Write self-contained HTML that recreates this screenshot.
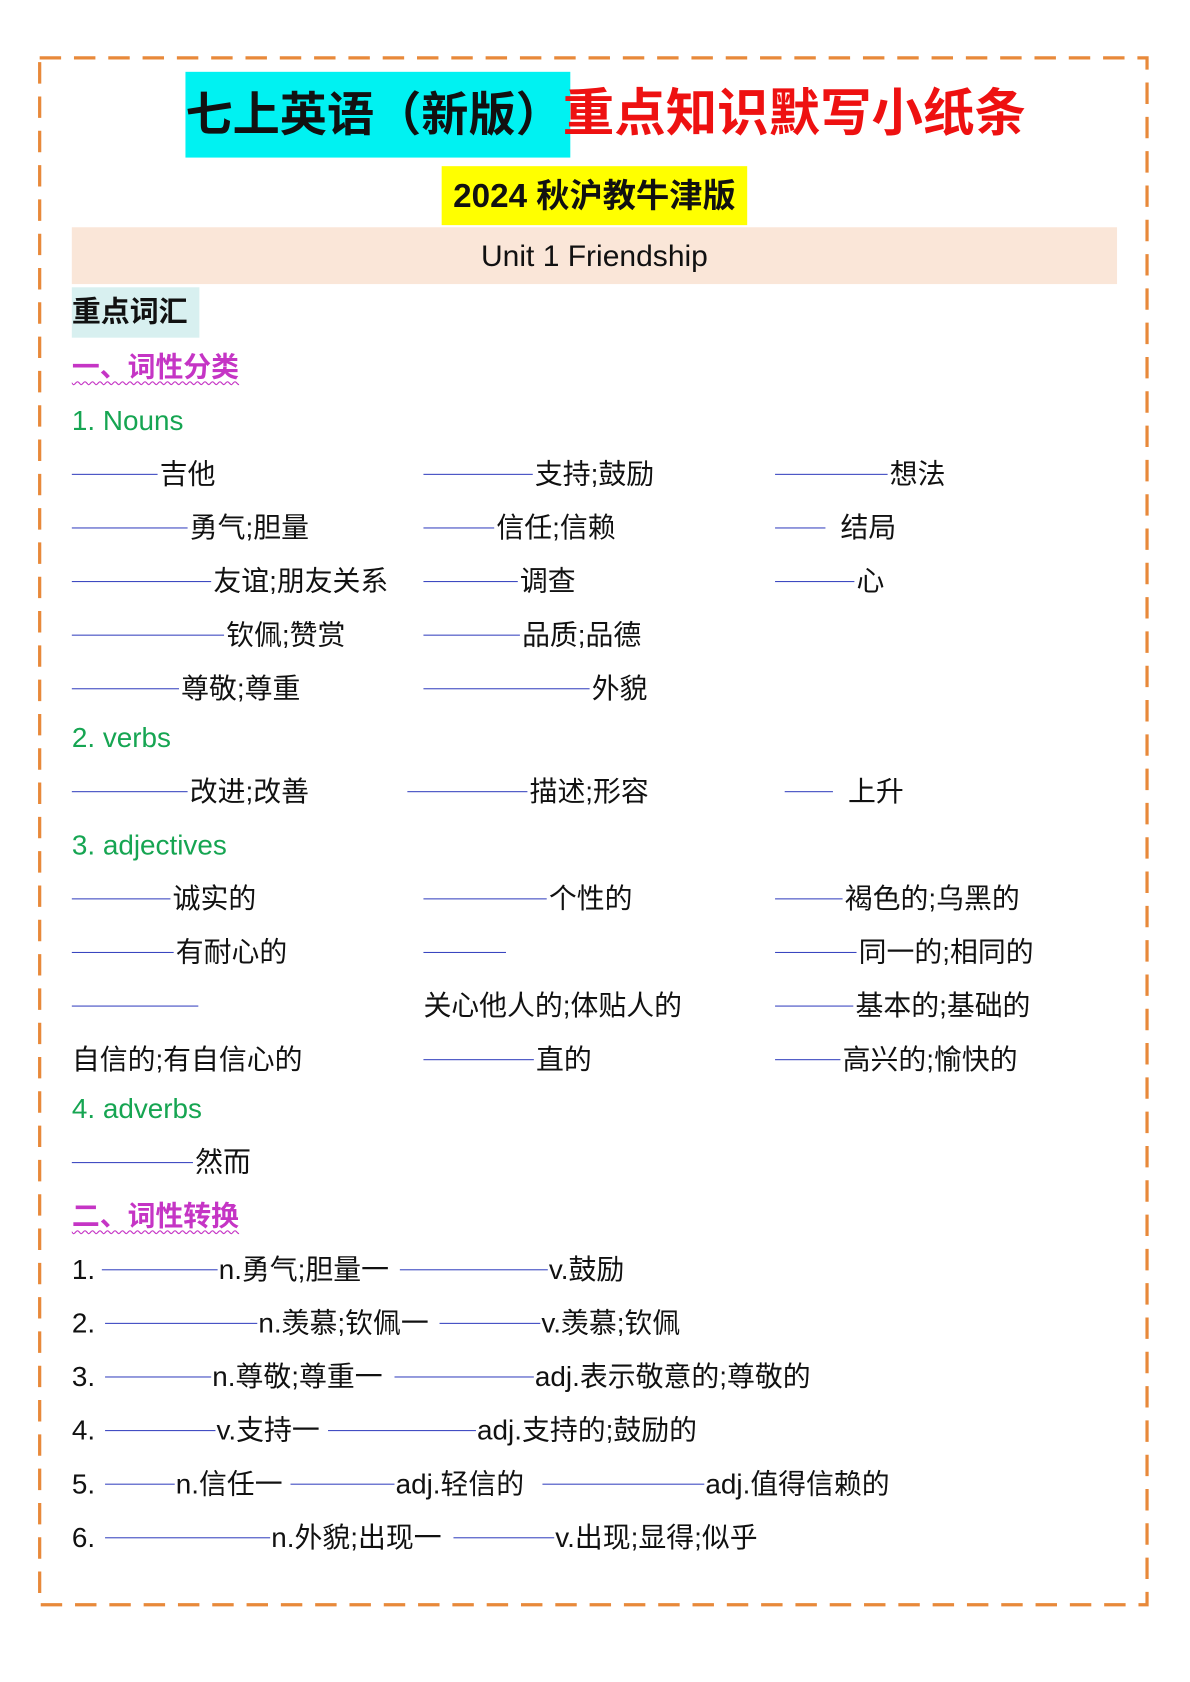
<!DOCTYPE html>
<html><head><meta charset="utf-8">
<style>
html,body{margin:0;padding:0;background:#fff;}
body{width:1190px;height:1682px;overflow:hidden;position:relative;}
#c{position:absolute;left:0;top:0;width:1110px;height:1569px;transform:scale(1.072);transform-origin:0 0;font-family:"Liberation Sans","Noto Sans CJK SC",sans-serif;color:#111;}
.t{position:absolute;font-size:26px;line-height:32px;white-space:nowrap;height:32px;}
.b{position:absolute;height:0;border-bottom:1.5px solid #3a46c0;}
.g{position:absolute;font-size:26px;line-height:32px;color:#16a552;white-space:nowrap;}
.m{position:absolute;font-size:26px;line-height:32px;color:#c535c5;font-weight:bold;white-space:nowrap;text-decoration:underline wavy #c535c5;text-decoration-thickness:1px;text-underline-offset:4px;}
</style></head><body>
<div id="c">
<svg style="position:absolute;left:0;top:0" width="1110" height="1569"><rect x="37" y="54" width="1033" height="1443" fill="none" stroke="#e8893a" stroke-width="3" stroke-dasharray="20 12"/></svg>

<div style="position:absolute;left:173px;top:67px;width:359px;height:80px;background:#00f2f2;"></div>
<div style="position:absolute;left:173px;top:67px;height:80px;line-height:80px;font-size:44px;font-weight:bold;white-space:nowrap;">七上英语（新版）<span style="color:#ee1111;font-size:48px;">重点知识默写小纸条</span></div>

<div style="position:absolute;left:412px;top:155px;width:285px;height:55px;background:#ffff00;"></div>
<div style="position:absolute;left:412px;top:155px;width:285px;height:55px;line-height:55px;font-size:31px;font-weight:bold;text-align:center;white-space:nowrap;">2024 秋沪教牛津版</div>

<div style="position:absolute;left:67px;top:212px;width:975px;height:53px;background:#fae6d8;line-height:53px;text-align:center;font-size:28px;">Unit 1 Friendship</div>

<div style="position:absolute;left:67px;top:268px;width:119px;height:47px;background:#d8f0f0;line-height:47px;font-size:27px;font-weight:bold;">重点词汇</div>

<div class="m" style="left:67px;top:326px;">一、词性分类</div>
<div class="g" style="left:67px;top:376px;">1. Nouns</div>

<div class="b" style="left:67px;top:442px;width:80px"></div><div class="t" style="left:149px;top:426px">吉他</div>
<div class="b" style="left:395px;top:442px;width:102px"></div><div class="t" style="left:499px;top:426px">支持;鼓励</div>
<div class="b" style="left:723px;top:442px;width:105px"></div><div class="t" style="left:830px;top:426px">想法</div>

<div class="b" style="left:67px;top:492px;width:108px"></div><div class="t" style="left:177px;top:476px">勇气;胆量</div>
<div class="b" style="left:395px;top:492px;width:66px"></div><div class="t" style="left:463px;top:476px">信任;信赖</div>
<div class="b" style="left:723px;top:492px;width:47px"></div><div class="t" style="left:784px;top:476px">结局</div>

<div class="b" style="left:67px;top:542px;width:130px"></div><div class="t" style="left:199px;top:526px">友谊;朋友关系</div>
<div class="b" style="left:395px;top:542px;width:88px"></div><div class="t" style="left:485px;top:526px">调查</div>
<div class="b" style="left:723px;top:542px;width:74px"></div><div class="t" style="left:799px;top:526px">心</div>

<div class="b" style="left:67px;top:592px;width:142px"></div><div class="t" style="left:211px;top:576px">钦佩;赞赏</div>
<div class="b" style="left:395px;top:592px;width:90px"></div><div class="t" style="left:487px;top:576px">品质;品德</div>

<div class="b" style="left:67px;top:642px;width:100px"></div><div class="t" style="left:169px;top:626px">尊敬;尊重</div>
<div class="b" style="left:395px;top:642px;width:155px"></div><div class="t" style="left:552px;top:626px">外貌</div>

<div class="g" style="left:67px;top:672px;">2. verbs</div>
<div class="b" style="left:67px;top:738px;width:108px"></div><div class="t" style="left:177px;top:722px">改进;改善</div>
<div class="b" style="left:380px;top:738px;width:112px"></div><div class="t" style="left:494px;top:722px">描述;形容</div>
<div class="b" style="left:732px;top:738px;width:45px"></div><div class="t" style="left:791px;top:722px">上升</div>

<div class="g" style="left:67px;top:772px;">3. adjectives</div>
<div class="b" style="left:67px;top:838px;width:92px"></div><div class="t" style="left:161px;top:822px">诚实的</div>
<div class="b" style="left:395px;top:838px;width:115px"></div><div class="t" style="left:512px;top:822px">个性的</div>
<div class="b" style="left:723px;top:838px;width:63px"></div><div class="t" style="left:788px;top:822px">褐色的;乌黑的</div>

<div class="b" style="left:67px;top:888px;width:95px"></div><div class="t" style="left:164px;top:872px">有耐心的</div>
<div class="b" style="left:395px;top:888px;width:77px"></div>
<div class="b" style="left:723px;top:888px;width:76px"></div><div class="t" style="left:801px;top:872px">同一的;相同的</div>

<div class="b" style="left:67px;top:938px;width:118px"></div>
<div class="t" style="left:395px;top:922px">关心他人的;体贴人的</div>
<div class="b" style="left:723px;top:938px;width:73px"></div><div class="t" style="left:798px;top:922px">基本的;基础的</div>

<div class="t" style="left:67px;top:972px">自信的;有自信心的</div>
<div class="b" style="left:395px;top:988px;width:103px"></div><div class="t" style="left:500px;top:972px">直的</div>
<div class="b" style="left:723px;top:988px;width:61px"></div><div class="t" style="left:786px;top:972px">高兴的;愉快的</div>

<div class="g" style="left:67px;top:1018px;">4. adverbs</div>
<div class="b" style="left:67px;top:1084px;width:113px"></div><div class="t" style="left:182px;top:1068px">然而</div>

<div class="m" style="left:67px;top:1118px;">二、词性转换</div>

<div class="t" style="left:67px;top:1168px">1.</div><div class="b" style="left:95px;top:1184px;width:108px"></div><div class="t" style="left:204px;top:1168px">n.勇气;胆量一</div><div class="b" style="left:373px;top:1184px;width:138px"></div><div class="t" style="left:512px;top:1168px">v.鼓励</div>

<div class="t" style="left:67px;top:1218px">2.</div><div class="b" style="left:98px;top:1234px;width:142px"></div><div class="t" style="left:241px;top:1218px">n.羡慕;钦佩一</div><div class="b" style="left:410px;top:1234px;width:94px"></div><div class="t" style="left:505px;top:1218px">v.羡慕;钦佩</div>

<div class="t" style="left:67px;top:1268px">3.</div><div class="b" style="left:98px;top:1284px;width:99px"></div><div class="t" style="left:198px;top:1268px">n.尊敬;尊重一</div><div class="b" style="left:368px;top:1284px;width:130px"></div><div class="t" style="left:499px;top:1268px">adj.表示敬意的;尊敬的</div>

<div class="t" style="left:67px;top:1318px">4.</div><div class="b" style="left:98px;top:1334px;width:103px"></div><div class="t" style="left:202px;top:1318px">v.支持一</div><div class="b" style="left:306px;top:1334px;width:138px"></div><div class="t" style="left:445px;top:1318px">adj.支持的;鼓励的</div>

<div class="t" style="left:67px;top:1368px">5.</div><div class="b" style="left:98px;top:1384px;width:65px"></div><div class="t" style="left:164px;top:1368px">n.信任一</div><div class="b" style="left:271px;top:1384px;width:97px"></div><div class="t" style="left:369px;top:1368px">adj.轻信的</div><div class="b" style="left:506px;top:1384px;width:151px"></div><div class="t" style="left:658px;top:1368px">adj.值得信赖的</div>

<div class="t" style="left:67px;top:1418px">6.</div><div class="b" style="left:98px;top:1434px;width:154px"></div><div class="t" style="left:253px;top:1418px">n.外貌;出现一</div><div class="b" style="left:423px;top:1434px;width:94px"></div><div class="t" style="left:518px;top:1418px">v.出现;显得;似乎</div>
</div>
</body></html>
